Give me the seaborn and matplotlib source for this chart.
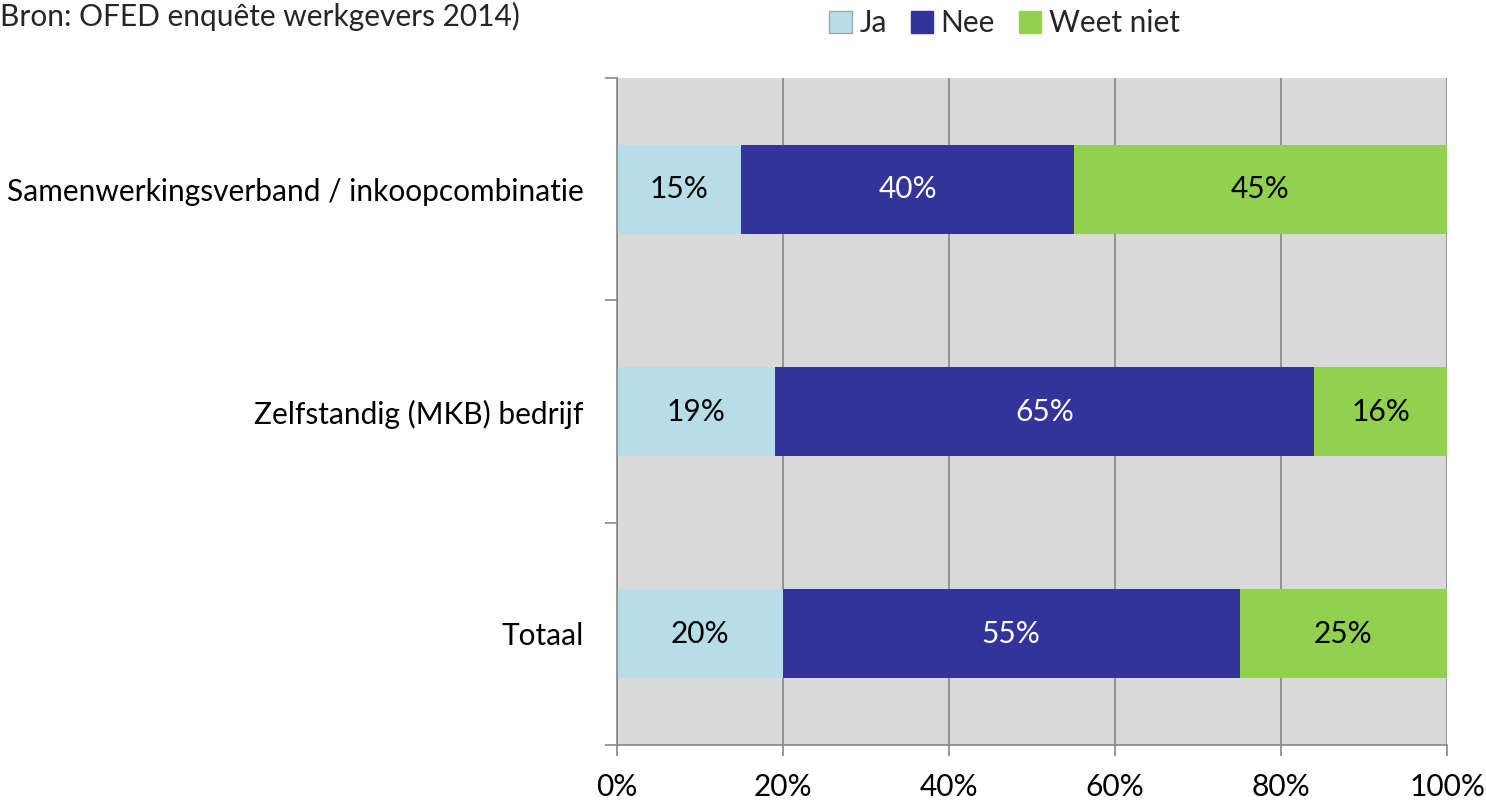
import numpy as np
import pandas as pd
import seaborn as sns
import matplotlib.pyplot as plt
from matplotlib.patches import Patch
from matplotlib.ticker import FixedLocator, PercentFormatter

# data
categories = ['Samenwerkingsverband / inkoopcombinatie', 'Zelfstandig (MKB) bedrijf', 'Totaal']
ja = [15, 19, 20]
nee = [40, 65, 55]
weet_niet = [45, 16, 25]
series_names = ['Ja', 'Nee', 'Weet niet']
colors = ['#b7dee8', '#333399', '#92d050']

sns.set_theme(style='white')
plt.rcParams['font.family'] = ['Lato', 'DejaVu Sans']
fs = 21.5

df = pd.DataFrame({'cat': categories, 'Ja': ja, 'Nee': nee, 'Weet niet': weet_niet})
df['c1'] = df['Ja']
df['c2'] = df['Ja'] + df['Nee']
df['c3'] = df['c2'] + df['Weet niet']

fig = plt.figure(figsize=(14.86, 8.01), dpi=100)
ax = fig.add_axes([0.4152, 0.0699, 0.9738 - 0.4152, 0.9026 - 0.0699])
ax.set_facecolor('#d9d9d9')

# stacked bars by overlaying cumulative totals
for col, c in zip(['c3', 'c2', 'c1'], colors[::-1]):
    sns.barplot(data=df, x=col, y='cat', orient='h', color=c, width=0.4,
                saturation=1, linewidth=0, ax=ax)

# segment labels
for i in range(len(categories)):
    left = 0
    for name, txtcol in zip(series_names, ['black', 'white', 'black']):
        v = df[name][i]
        ax.text(left + v / 2, i, f'{v}%', ha='center', va='center',
                fontsize=fs, color=txtcol)
        left += v

ax.set_xlim(0, 100)
ax.set_ylim(2.5, -0.5)
ax.set_xticks(np.arange(0, 101, 20))
ax.xaxis.set_major_formatter(PercentFormatter(decimals=0))
ax.grid(axis='x', color='#878787', linewidth=1.2)
ax.set_axisbelow(True)
ax.set_xlabel('')
ax.set_ylabel('')

ax.yaxis.set_minor_locator(FixedLocator([-0.5, 0.5, 1.5, 2.5]))
ax.tick_params(axis='y', which='major', length=0, pad=24, labelsize=fs, labelcolor='black')
ax.tick_params(axis='y', which='minor', length=9, width=1.2, color='#878787', direction='out', left=True)
ax.tick_params(axis='x', length=8, width=1.2, color='#878787', direction='out', bottom=True,
               pad=12, labelsize=fs, labelcolor='black')

for s in ['top', 'right']:
    ax.spines[s].set_visible(False)
for s in ['left', 'bottom']:
    ax.spines[s].set_color('#878787')
    ax.spines[s].set_linewidth(1.2)

fig.text(0.0, 0.998, 'Bron: OFED enquête werkgevers 2014)', ha='left', va='top', fontsize=fs)

handles = [Patch(facecolor=c, edgecolor='#a6a6a6' if i == 0 else c) for i, c in enumerate(colors)]
fig.legend(handles, series_names, loc='upper center', bbox_to_anchor=(0.676, 1.022), ncol=3,
           frameon=False, fontsize=fs, handlelength=0.75, handleheight=0.75,
           handletextpad=0.25, columnspacing=0.8)

fig.savefig('out.png', dpi=100)
